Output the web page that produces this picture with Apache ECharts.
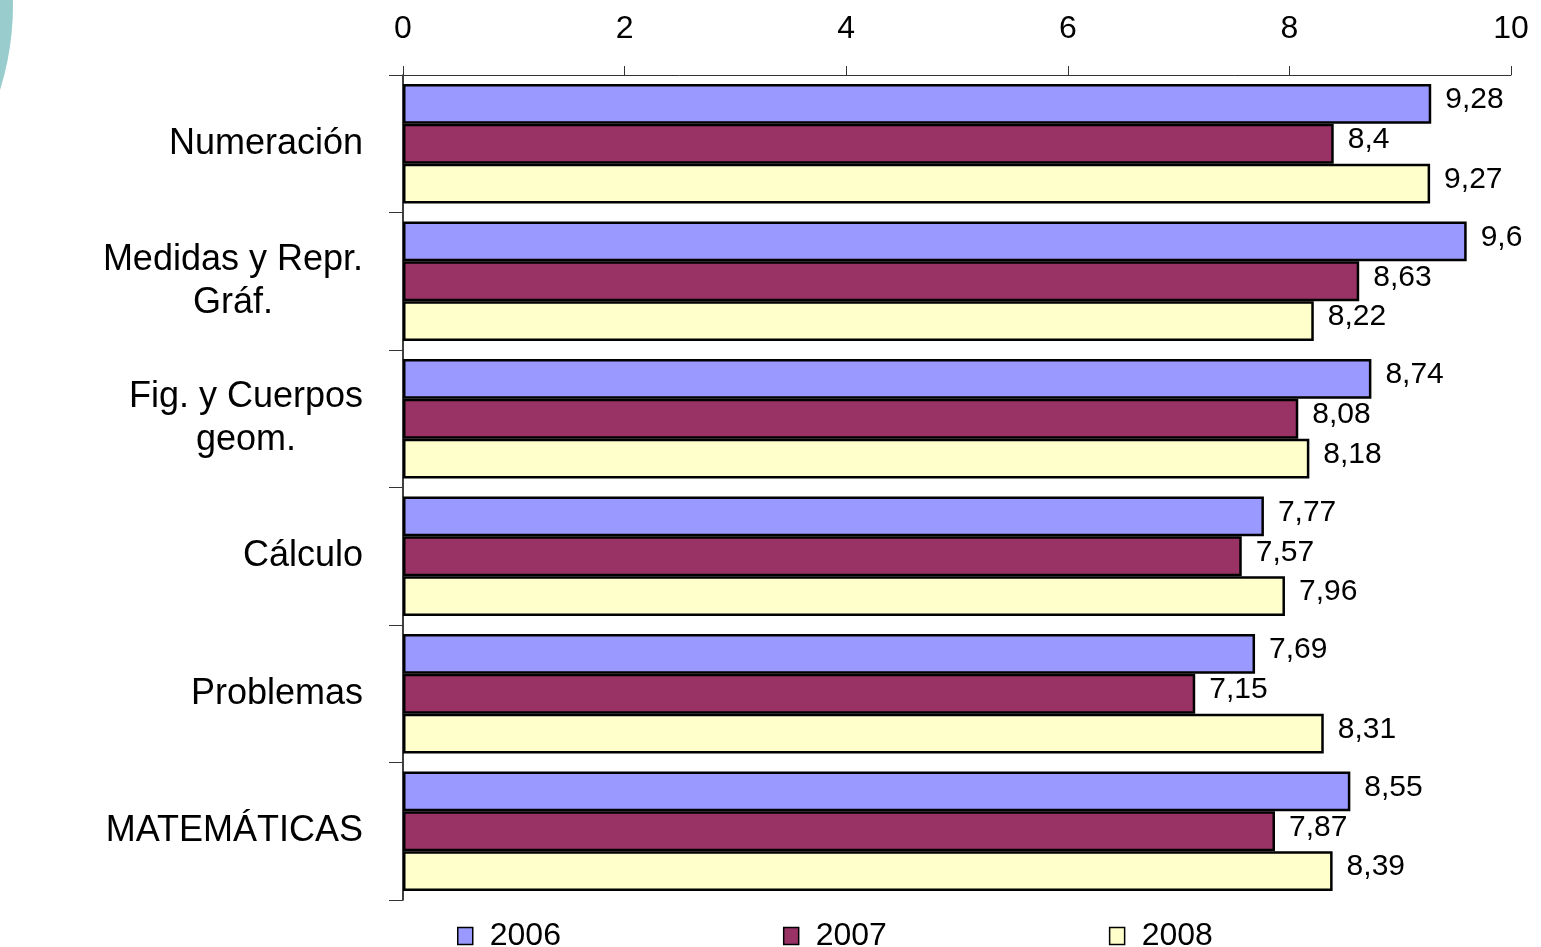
<!DOCTYPE html>
<html>
<head>
<meta charset="utf-8">
<script src="https://cdn.jsdelivr.net/npm/echarts@6/dist/echarts.min.js"></script>
<style>html,body{margin:0;padding:0;background:#fff;}#c{width:1541px;height:947px;}</style>
</head>
<body>
<div id="c"></div>
<script>
var categories = ['Numeración', 'Medidas y Repr.\nGráf.', 'Fig. y Cuerpos\ngeom.', 'Cálculo', 'Problemas', 'MATEMÁTICAS'];
var seriesNames = ['2006', '2007', '2008'];
var values2006 = [9.28, 9.6, 8.74, 7.77, 7.69, 8.55];
var values2007 = [8.4, 8.63, 8.08, 7.57, 7.15, 7.87];
var values2008 = [9.27, 8.22, 8.18, 7.96, 8.31, 8.39];
var colors = ['#9999FF', '#993366', '#FFFFCC'];
var FONT = '"Liberation Sans", Arial, sans-serif';

var chart = echarts.init(document.getElementById('c'), null, {renderer: 'canvas'});
function mk(name, data, color) {
  return {
    name: name, type: 'bar', data: data,
    barGap: '0%', barCategoryGap: '13%',
    itemStyle: {color: color, borderColor: '#000', borderWidth: 2.5},
    label: {
      show: true, position: 'right', distance: 14, offset: [0, -4],
      fontFamily: FONT, fontSize: 30, color: '#000',
      formatter: function (p) { return String(p.value).replace('.', ','); }
    },
    emphasis: {disabled: true}
  };
}
chart.setOption({
  animation: false,
  backgroundColor: '#fff',
  graphic: [{
    type: 'circle', shape: {cx: -271, cy: 5, r: 284},
    style: {fill: '#99CCCC'}, silent: true, z: -1
  }],
  grid: {left: 403, right: 30, top: 75, bottom: 47, containLabel: false},
  xAxis: {
    type: 'value', position: 'top', min: 0, max: 10, interval: 2,
    axisLine: {show: true, lineStyle: {color: '#333', width: 1}},
    axisTick: {show: true, length: 9, lineStyle: {color: '#333'}},
    splitLine: {show: false},
    axisLabel: {fontFamily: FONT, fontSize: 32, color: '#000', margin: 30}
  },
  yAxis: {
    type: 'category', data: categories, inverse: true,
    axisLine: {show: true, lineStyle: {color: '#000', width: 1.5}},
    axisTick: {show: true, length: 14, lineStyle: {color: '#333'}},
    axisLabel: {
      fontFamily: FONT, fontSize: 36, color: '#000', margin: 40, lineHeight: 43,
      formatter: function (v) { return v.split('\n').map(function (s) { return '{c|' + s + '}'; }).join('\n'); },
      rich: {c: {align: 'center', fontFamily: FONT, fontSize: 36, color: '#000', lineHeight: 43}}
    }
  },
  legend: {
    data: seriesNames, left: 452, top: 915, itemGap: 222,
    itemWidth: 15, itemHeight: 17, icon: 'rect',
    itemStyle: {borderColor: '#000', borderWidth: 1.5},
    textStyle: {fontFamily: FONT, fontSize: 32, color: '#000', padding: [0, 0, 0, 12]}
  },
  series: [mk(seriesNames[0], values2006, colors[0]), mk(seriesNames[1], values2007, colors[1]), mk(seriesNames[2], values2008, colors[2])]
});
</script>
</body>
</html>
